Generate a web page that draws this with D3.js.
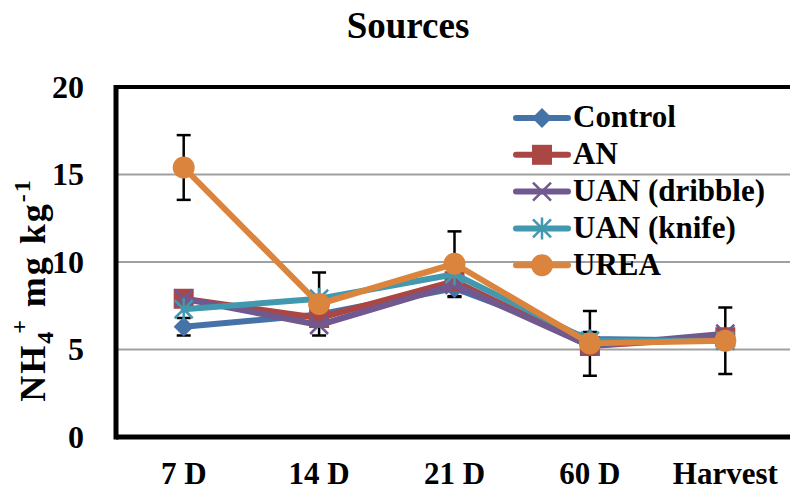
<!DOCTYPE html>
<html>
<head>
<meta charset="utf-8">
<script src="https://cdn.jsdelivr.net/npm/d3@7"></script>
<style>
  body { margin: 0; background: #fff; }
  text { font-family: "Liberation Serif", "Times New Roman", serif; font-weight: bold; fill: #000; }
</style>
</head>
<body>
<svg id="chart" width="790" height="492"></svg>
<script>
// categories and series (NH4+ mg/kg)
var categories = ['7 D', '14 D', '21 D', '60 D', 'Harvest']
var control = [6.3, 7.0, 8.5, 5.6, 5.5]
var an = [7.9, 6.8, 8.9, 5.2, 5.7]
var uanDribble = [7.9, 6.4, 8.7, 5.2, 5.9]
var uanKnife = [7.3, 7.9, 9.3, 5.5, 5.5]
var urea = [15.4, 7.6, 9.9, 5.35, 5.5]
var ureaErr = [1.85, 1.8, 1.85, 1.85, 1.9]
var controlErr = [0.5, 0.4, 0.5, 0.4, 0.4]
var yTicks = [0, 5, 10, 15, 20]

var series = [
  { name: 'Control', values: control, color: '#4572A7', marker: 'diamond', err: controlErr },
  { name: 'AN', values: an, color: '#AA4643', marker: 'square' },
  { name: 'UAN (dribble)', values: uanDribble, color: '#71588F', marker: 'x' },
  { name: 'UAN (knife)', values: uanKnife, color: '#4198AF', marker: 'star' },
  { name: 'UREA', values: urea, color: '#DB843D', marker: 'circle', err: ureaErr }
]

var svg = d3.select('#chart')
var margin = { top: 87, right: 0, bottom: 55, left: 116 }
var width = 793 - margin.left
var height = 437 - margin.top
var g = svg.append('g').attr('transform', 'translate(' + margin.left + ',' + margin.top + ')')

var x = d3.scaleBand().domain(categories).range([0, width])
var y = d3.scaleLinear().domain([0, 20]).range([height, 0])
var cx = function(i) { return x(categories[i]) + x.bandwidth() / 2 }

// gridlines
g.selectAll('.grid').data(yTicks.filter(function(t) { return t > 0 && t < 20 })).enter()
  .append('line')
    .attr('x1', 0).attr('x2', width)
    .attr('y1', function(d) { return y(d) }).attr('y2', function(d) { return y(d) })
    .attr('stroke', '#A0A0A0').attr('stroke-width', 2)

// axes frame
g.append('line').attr('x1', 0).attr('x2', width).attr('y1', y(20)).attr('y2', y(20))
  .attr('stroke', '#000').attr('stroke-width', 4)
g.append('line').attr('x1', 0).attr('x2', width).attr('y1', y(0)).attr('y2', y(0))
  .attr('stroke', '#000').attr('stroke-width', 5)
g.append('line').attr('x1', 0).attr('x2', 0).attr('y1', y(20) - 2).attr('y2', y(0) + 2.5)
  .attr('stroke', '#000').attr('stroke-width', 5)

// tick labels
g.selectAll('.ylab').data(yTicks).enter().append('text')
  .attr('x', -32).attr('y', function(d) { return y(d) })
  .attr('dy', '0.34em').attr('text-anchor', 'end')
  .style('font-size', '32px')
  .text(function(d) { return d })

g.selectAll('.xlab').data(categories).enter().append('text')
  .attr('x', function(d) { return x(d) + x.bandwidth() / 2 })
  .attr('y', height + 47)
  .attr('text-anchor', 'middle')
  .style('font-size', '31px')
  .text(function(d) { return d })

// title
svg.append('text').attr('x', 408).attr('y', 38).attr('text-anchor', 'middle')
  .style('font-size', '37px').text('Sources')

// y axis title
var yt = svg.append('text').attr('transform', 'translate(45,290) rotate(-90)')
  .attr('text-anchor', 'middle').style('font-size', '36px').style('letter-spacing', '2px')
yt.append('tspan').text('NH')
yt.append('tspan').attr('dy', 8).style('font-size', '24px').text('4')
yt.append('tspan').attr('dy', -26).attr('dx', -4).style('font-size', '24px').text('+')
yt.append('tspan').attr('dy', 18).text(' mg kg')
yt.append('tspan').attr('dy', -15).style('font-size', '24px').text('-1')

function drawMarker(sel, s, px, py) {
  if (s.marker === 'diamond') {
    sel.append('path').attr('d', 'M0,-10L10,0L0,10L-10,0Z')
      .attr('transform', 'translate(' + px + ',' + py + ')')
      .attr('fill', s.color)
  } else if (s.marker === 'square') {
    sel.append('rect').attr('x', px - 10).attr('y', py - 10).attr('width', 20).attr('height', 20)
      .attr('fill', s.color)
  } else if (s.marker === 'x') {
    sel.append('path').attr('d', 'M-9,-9L9,9M-9,9L9,-9')
      .attr('transform', 'translate(' + px + ',' + py + ')')
      .attr('stroke', s.color).attr('stroke-width', 2.5)
  } else if (s.marker === 'star') {
    sel.append('path').attr('d', 'M-9,-9L9,9M-9,9L9,-9M0,-11L0,11')
      .attr('transform', 'translate(' + px + ',' + py + ')')
      .attr('stroke', s.color).attr('stroke-width', 2.5)
  } else {
    sel.append('circle').attr('cx', px).attr('cy', py).attr('r', 11).attr('fill', s.color)
  }
}

// error bars
series.filter(function(s) { return s.err }).forEach(function(s) {
  s.values.forEach(function(v, i) {
    var e = s.err[i]
    var eg = g.append('g').attr('stroke', '#000').attr('stroke-width', 2.5)
    eg.append('line').attr('x1', cx(i)).attr('x2', cx(i)).attr('y1', y(v + e)).attr('y2', y(v - e))
    eg.append('line').attr('x1', cx(i) - 7).attr('x2', cx(i) + 7).attr('y1', y(v + e)).attr('y2', y(v + e))
    eg.append('line').attr('x1', cx(i) - 7).attr('x2', cx(i) + 7).attr('y1', y(v - e)).attr('y2', y(v - e))
  })
})

// lines and markers
var line = d3.line().x(function(d, i) { return cx(i) }).y(function(d) { return y(d) })
series.forEach(function(s) {
  var sg = g.append('g')
  sg.append('path').datum(s.values).attr('d', line)
    .attr('fill', 'none').attr('stroke', s.color).attr('stroke-width', 6)
    .attr('stroke-linejoin', 'round').attr('stroke-linecap', 'round')
  s.values.forEach(function(v, i) { drawMarker(sg, s, cx(i), y(v)) })
})

// legend
var legend = svg.append('g')
series.forEach(function(s, i) {
  var ly = 118 + i * 36.8
  var lg = legend.append('g')
  lg.append('line').attr('x1', 516).attr('x2', 568).attr('y1', ly).attr('y2', ly)
    .attr('stroke', s.color).attr('stroke-width', 6).attr('stroke-linecap', 'round')
  drawMarker(lg, s, 542, ly)
  lg.append('text').attr('x', 573).attr('y', ly).attr('dy', '0.3em')
    .style('font-size', '31px').text(s.name)
})
</script>
</body>
</html>
